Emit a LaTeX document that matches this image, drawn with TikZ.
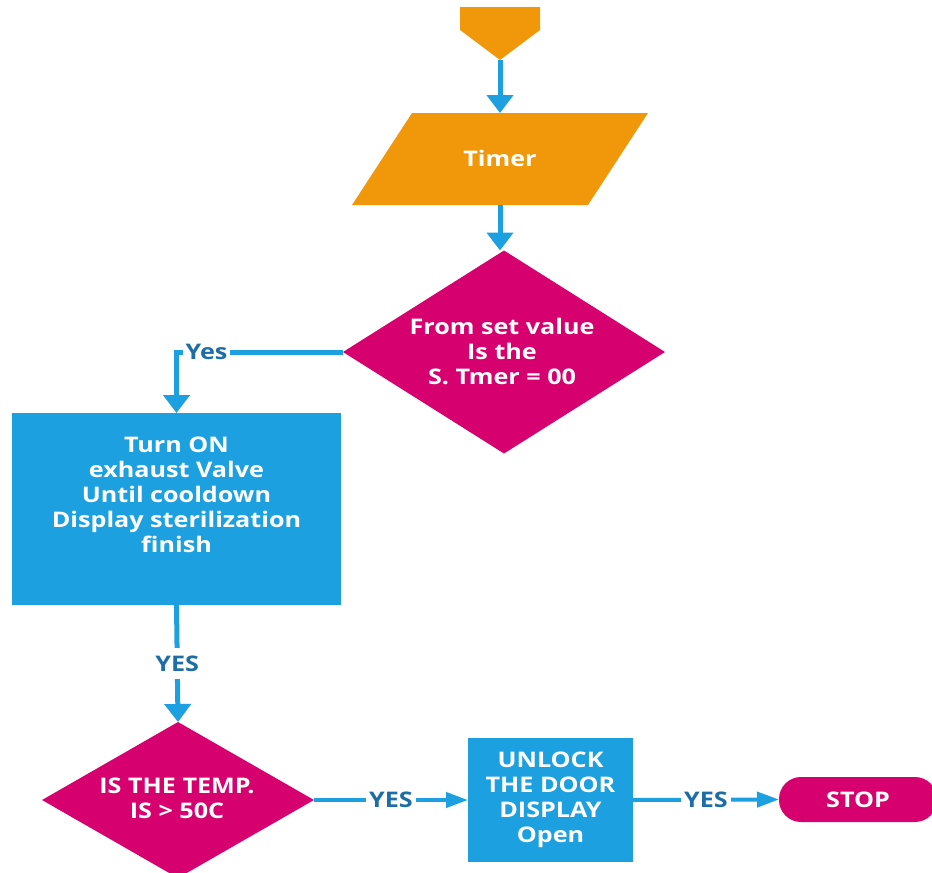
\documentclass[tikz,border=0pt]{standalone}
\usepackage{fontspec}
\setmainfont{Open Sans}[FakeStretch=1.17]
\usetikzlibrary{shapes.geometric,arrows.meta}
\definecolor{flowOrange}{RGB}{240,152,10}
\definecolor{flowMagenta}{RGB}{214,0,110}
\definecolor{flowBlue}{RGB}{29,160,224}
\definecolor{labelBlue}{RGB}{28,110,165}
\begin{document}
\begin{tikzpicture}[x=1pt,y=-1pt,
  every node/.style={font=\fontsize{21.5}{25}\selectfont\bfseries, text=white,
    align=center, inner sep=0pt, outer sep=0pt},
  procbox/.style={rectangle, fill=flowBlue},
  decision/.style={diamond, fill=flowMagenta},
  terminal/.style={rectangle, rounded corners=22pt, fill=flowMagenta},
  flowarrow/.style={draw=flowBlue, line width=5pt, -{Triangle[width=26pt,length=18pt]}},
  sidearrow/.style={draw=flowBlue, line width=4pt, -{Triangle[width=15pt,length=22pt]}},
  yeslabel/.style={fill=white, text=labelBlue, inner xsep=3pt, inner ysep=8pt}
]
\useasboundingbox (0,0) rectangle (932,873);
\clip (0,0) rectangle (932,873);

% off-page start connector
\fill[flowOrange] (460,7) -- (540,7) -- (540,30) -- (500,60) -- (460,30) -- cycle;
\coordinate (start) at (500,60);

% input / output parallelogram
\fill[flowOrange] (352,205) -- (412,113) -- (648,113) -- (588,205) -- cycle;
\node (timer) at (500,158) {Timer};
\coordinate (timerTop) at (500,113);
\coordinate (timerBot) at (500,205);

% timer decision (shape and its text kept apart so the text does not grow the diamond)
\node[decision, minimum width=322pt, minimum height=203pt] (check) at (504,352) {};
\node (checktext) at (502,351) {From set value\\Is the\\S. Tmer = 00};

% cooldown process
\node[procbox, minimum width=329pt, minimum height=192pt] (cool) at (176.5,509) {};
\node (cooltext) at (176.5,495)
  {Turn ON\\exhaust Valve\\Until cooldown\\Display sterilization\\finish};

% temperature decision
\node[decision, minimum width=272pt, minimum height=156pt] (temp) at (178,800) {};
\node (temptext) at (177,798) {IS THE TEMP.\\IS {>} 50C};

% unlock process
\node[procbox, minimum width=165pt, minimum height=124pt] (unlock) at (550.5,800)
  {UNLOCK\\THE DOOR\\DISPLAY\\Open};

% end terminal
\node[terminal, minimum width=158pt, minimum height=45pt] (stop) at (858,799.5) {STOP};

% connectors
\draw[flowarrow] (start) -- (timerTop);
\draw[flowarrow] (timerBot) -- (timerBot |- check.north);
\draw[flowarrow] (check.west) -| node[yeslabel, pos=0.41] {Yes} (cool.north);
\draw[flowarrow] (cool.south) -- node[yeslabel] {YES} (temp.north);
\draw[sidearrow] (temp.east) -- node[yeslabel] {YES} (unlock.west);
\draw[sidearrow] (unlock.east) -- node[yeslabel] {YES} (stop.west);
\end{tikzpicture}
\end{document}
